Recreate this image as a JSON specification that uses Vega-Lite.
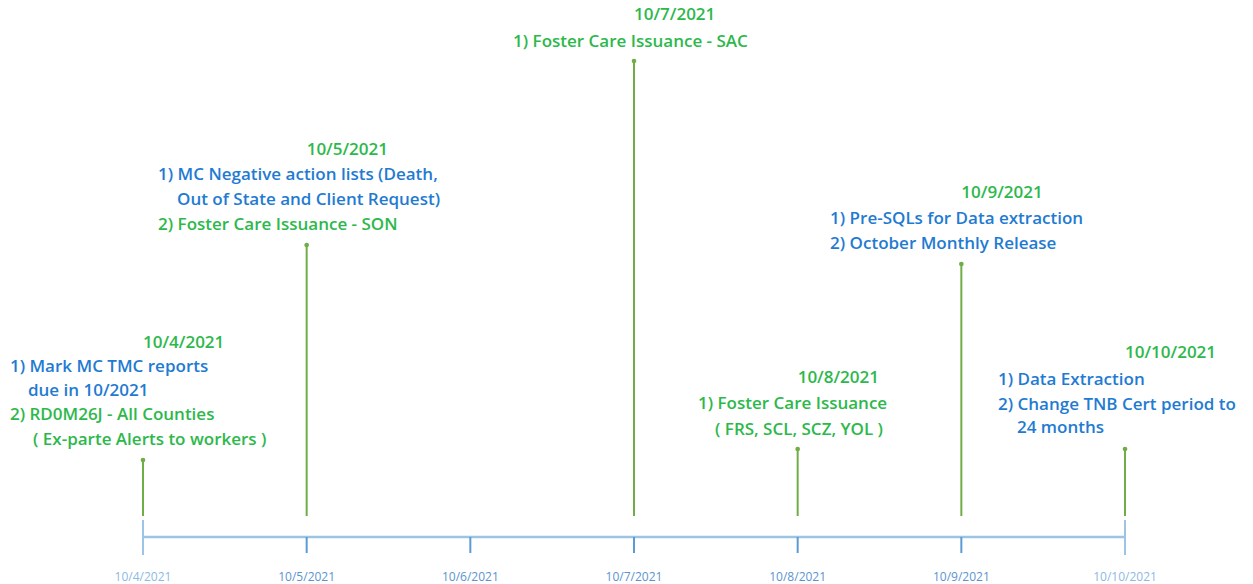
{
  "$schema": "https://vega.github.io/schema/vega-lite/v6.json",
  "width": 1253,
  "height": 584,
  "padding": 0,
  "autosize": {"type": "none"},
  "background": "white",
  "config": {"view": {"stroke": null}},
  "datasets": {
    "events": [
      {"day": 4, "top": 77},
      {"day": 5, "top": 292},
      {"day": 7, "top": 476},
      {"day": 8, "top": 88},
      {"day": 9, "top": 273},
      {"day": 10, "top": 88}
    ],
    "ticks": [
      {"day": 4, "label": "10/4/2021", "kind": "end"},
      {"day": 5, "label": "10/5/2021", "kind": "mid"},
      {"day": 6, "label": "10/6/2021", "kind": "mid"},
      {"day": 7, "label": "10/7/2021", "kind": "mid"},
      {"day": 8, "label": "10/8/2021", "kind": "mid"},
      {"day": 9, "label": "10/9/2021", "kind": "mid"},
      {"day": 10, "label": "10/10/2021", "kind": "end"}
    ],
    "notes": [
      {"x": 4.0, "y": 194, "text": "10/4/2021", "tone": "green"},
      {"x": 3.187, "y": 170, "text": "1) Mark MC TMC reports", "tone": "blue"},
      {"x": 3.297, "y": 146, "text": "due in 10/2021", "tone": "blue"},
      {"x": 3.187, "y": 122, "text": "2) RD0M26J - All Counties", "tone": "green"},
      {"x": 3.328, "y": 97, "text": "( Ex-parte Alerts to workers )", "tone": "green"},
      {"x": 5.0, "y": 387, "text": "10/5/2021", "tone": "green"},
      {"x": 4.092, "y": 362, "text": "1) MC Negative action lists (Death,", "tone": "blue"},
      {"x": 4.208, "y": 337, "text": "Out of State and  Client Request)", "tone": "blue"},
      {"x": 4.092, "y": 312, "text": "2) Foster Care Issuance - SON", "tone": "green"},
      {"x": 7.0, "y": 522, "text": "10/7/2021", "tone": "green"},
      {"x": 6.261, "y": 495, "text": "1) Foster Care Issuance - SAC", "tone": "green"},
      {"x": 8.0, "y": 159, "text": "10/8/2021", "tone": "green"},
      {"x": 7.391, "y": 133, "text": "1) Foster Care Issuance", "tone": "green"},
      {"x": 7.495, "y": 107, "text": "( FRS, SCL, SCZ, YOL )", "tone": "green"},
      {"x": 9.0, "y": 344, "text": "10/9/2021", "tone": "green"},
      {"x": 8.198, "y": 318, "text": "1) Pre-SQLs for Data extraction", "tone": "blue"},
      {"x": 8.198, "y": 293, "text": "2) October Monthly Release", "tone": "blue"},
      {"x": 10.0, "y": 184, "text": "10/10/2021", "tone": "green"},
      {"x": 9.224, "y": 157, "text": "1) Data Extraction", "tone": "blue"},
      {"x": 9.224, "y": 132, "text": "2) Change TNB Cert period to", "tone": "blue"},
      {"x": 9.34, "y": 109, "text": "24 months", "tone": "blue"}
    ]
  },
  "resolve": {"scale": {"color": "independent"}},
  "layer": [
    {
      "data": {"name": "ticks"},
      "transform": [{"filter": "datum.day == 4"}],
      "mark": {"type": "rule", "color": "#9DC3E6", "strokeWidth": 2.5},
      "encoding": {
        "x": {"datum": 4, "type": "quantitative", "scale": {"domain": [3.1263, 10.782], "nice": false, "zero": false}, "axis": null},
        "x2": {"datum": 10},
        "y": {"datum": 0, "type": "quantitative", "scale": {"domain": [-47, 537], "nice": false, "zero": false}, "axis": null}
      }
    },
    {
      "data": {"name": "ticks"},
      "transform": [{"filter": "datum.kind == 'end'"}],
      "mark": {"type": "rule", "color": "#9DC3E6", "strokeWidth": 2},
      "encoding": {
        "x": {"field": "day", "type": "quantitative"},
        "y": {"datum": 17, "type": "quantitative"},
        "y2": {"datum": -18}
      }
    },
    {
      "data": {"name": "ticks"},
      "transform": [{"filter": "datum.kind == 'mid'"}],
      "mark": {"type": "rule", "color": "#5B9BD5", "strokeWidth": 2},
      "encoding": {
        "x": {"field": "day", "type": "quantitative"},
        "y": {"datum": 0, "type": "quantitative"},
        "y2": {"datum": -16}
      }
    },
    {
      "data": {"name": "ticks"},
      "mark": {"type": "text", "font": "Open Sans", "fontSize": 12, "baseline": "middle", "align": "center"},
      "encoding": {
        "x": {"field": "day", "type": "quantitative"},
        "y": {"datum": -40, "type": "quantitative"},
        "text": {"field": "label"},
        "color": {"field": "kind", "type": "nominal", "scale": {"domain": ["end", "mid"], "range": ["#8DB9E2", "#5B93CF"]}, "legend": null},
        "fontWeight": {"field": "kind", "type": "nominal", "scale": {"domain": ["end", "mid"], "range": ["normal", "bold"]}, "legend": null}
      }
    },
    {
      "data": {"name": "events"},
      "mark": {"type": "rule", "color": "#70AD47", "strokeWidth": 2},
      "encoding": {
        "x": {"field": "day", "type": "quantitative"},
        "y": {"field": "top", "type": "quantitative"},
        "y2": {"datum": 21}
      }
    },
    {
      "data": {"name": "events"},
      "mark": {"type": "circle", "color": "#70AD47", "size": 22, "opacity": 1},
      "encoding": {
        "x": {"field": "day", "type": "quantitative"},
        "y": {"field": "top", "type": "quantitative"}
      }
    },
    {
      "data": {"name": "notes"},
      "mark": {"type": "text", "font": "Open Sans", "fontSize": 17, "fontWeight": 600, "align": "left", "baseline": "middle"},
      "encoding": {
        "x": {"field": "x", "type": "quantitative"},
        "y": {"field": "y", "type": "quantitative"},
        "text": {"field": "text"},
        "color": {"field": "tone", "type": "nominal", "scale": {"domain": ["green", "blue"], "range": ["#2DB84C", "#1F7BD2"]}, "legend": null}
      }
    }
  ]
}
